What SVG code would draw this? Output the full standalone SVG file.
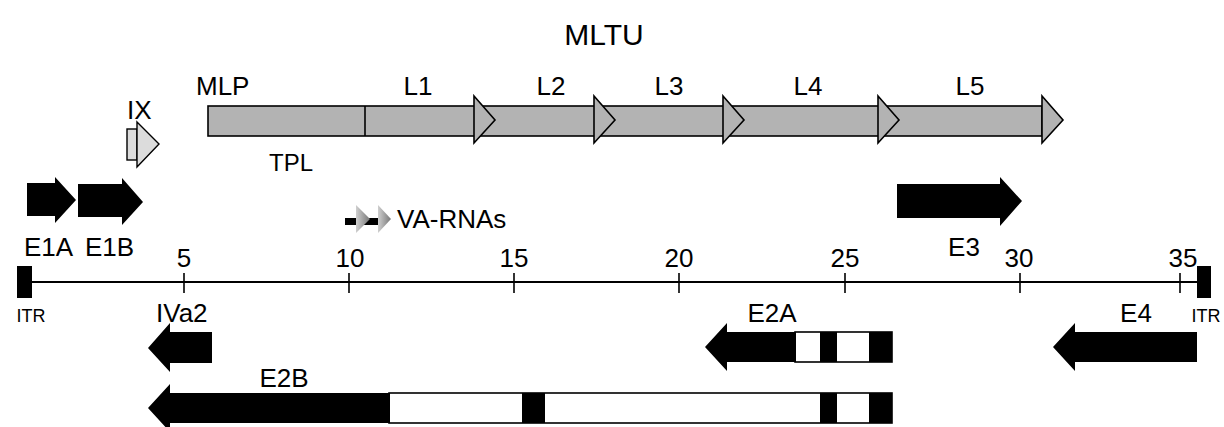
<svg xmlns="http://www.w3.org/2000/svg" width="1224" height="427" viewBox="0 0 1224 427">
  <defs>
    <style>
      text { font-family: "Liberation Sans", Arial, sans-serif; fill: #000; }
      .lbl { font-size: 26px; }
      .title { font-size: 30px; }
      .small { font-size: 18px; }
      .mid { text-anchor: middle; }
      .gene { fill: #000; stroke: none; }
      .late { fill: #b3b3b3; stroke: #000; stroke-width: 1.6; stroke-linejoin: miter; }
      .intron { fill: #fff; stroke: #000; stroke-width: 1.6; }
      .axis { stroke: #000; stroke-width: 2; fill: none; }
      .tick { stroke: #000; stroke-width: 1.6; }
    </style>
    <linearGradient id="vaGrad" x1="0" y1="0" x2="1" y2="0">
      <stop offset="0" stop-color="#cfcfcf"/>
      <stop offset="1" stop-color="#777"/>
    </linearGradient>
  </defs>

  <!-- title -->
  <text class="title mid" x="604" y="45">MLTU</text>

  <!-- major late transcription unit -->
  <g id="mltu">
    <rect class="late" x="208" y="106" width="834" height="30"/>
    <line x1="365" y1="106" x2="365" y2="136" stroke="#000" stroke-width="1.6"/>
    <polygon class="late" points="474,96 495,120 474,143"/>
    <polygon class="late" points="594,96 615,120 594,143"/>
    <polygon class="late" points="723,96 744,120 723,143"/>
    <polygon class="late" points="878,96 899,120 878,143"/>
    <polygon class="late" points="1042,96 1063,120 1042,143"/>
    <text class="lbl" x="196" y="95">MLP</text>
    <text class="lbl mid" x="418" y="95">L1</text>
    <text class="lbl mid" x="551" y="95">L2</text>
    <text class="lbl mid" x="669" y="95">L3</text>
    <text class="lbl mid" x="808" y="95">L4</text>
    <text class="lbl mid" x="970" y="95">L5</text>
    <text class="mid" x="291" y="171" style="font-size:24px">TPL</text>
  </g>

  <!-- protein IX -->
  <g id="ix">
    <rect x="127" y="129" width="10" height="31" fill="#dcdcdc" stroke="#000" stroke-width="1.4"/>
    <polygon points="137,122 159,144 137,167" fill="#dcdcdc" stroke="#000" stroke-width="1.4"/>
    <text class="lbl" x="127" y="119">IX</text>
  </g>

  <!-- early region 1 -->
  <g id="e1a">
    <polygon class="gene" points="27,183 55,183 55,177 76,200 55,223 55,216 27,216"/>
    <text class="lbl" x="24" y="256">E1A</text>
  </g>
  <g id="e1b">
    <polygon class="gene" points="78,184 122,184 122,178 143,202 122,225 122,217 78,217"/>
    <text class="lbl" x="85" y="256">E1B</text>
  </g>

  <!-- virus-associated RNAs -->
  <g id="va-rnas">
    <rect x="345" y="218" width="35" height="7" fill="#000"/>
    <polygon points="356,205 370,219 356,233" fill="url(#vaGrad)"/>
    <polygon points="378,205 391,219 378,233" fill="url(#vaGrad)"/>
    <text class="lbl" x="397" y="228">VA-RNAs</text>
  </g>

  <!-- early region 3 -->
  <g id="e3">
    <polygon class="gene" points="897,184 1000,184 1000,177 1022,201 1000,226 1000,218 897,218"/>
    <text class="lbl mid" x="964" y="256">E3</text>
  </g>

  <!-- genome scale (kb) -->
  <g id="genome">
    <line class="axis" x1="32" y1="282" x2="1197" y2="282"/>
    <rect x="17" y="266" width="15" height="32" fill="#000"/>
    <rect x="1197" y="266" width="14" height="32" fill="#000"/>
    <line class="tick" x1="184" y1="273" x2="184" y2="293"/>
    <line class="tick" x1="349" y1="273" x2="349" y2="293"/>
    <line class="tick" x1="514" y1="273" x2="514" y2="293"/>
    <line class="tick" x1="679" y1="273" x2="679" y2="293"/>
    <line class="tick" x1="845" y1="273" x2="845" y2="293"/>
    <line class="tick" x1="1020" y1="273" x2="1020" y2="293"/>
    <line class="tick" x1="1180" y1="273" x2="1180" y2="293"/>
    <text class="lbl mid" x="184" y="267">5</text>
    <text class="lbl mid" x="350" y="267">10</text>
    <text class="lbl mid" x="514" y="267">15</text>
    <text class="lbl mid" x="679" y="267">20</text>
    <text class="lbl mid" x="845" y="267">25</text>
    <text class="lbl mid" x="1019" y="267">30</text>
    <text class="lbl mid" x="1183" y="267">35</text>
    <text class="small mid" x="31" y="322">ITR</text>
    <text class="small mid" x="1206" y="322">ITR</text>
  </g>

  <!-- IVa2 -->
  <g id="iva2">
    <polygon class="gene" points="148,348 170,323 170,332 212,332 212,363 170,363 170,372"/>
    <text class="lbl" x="156" y="322">IVa2</text>
  </g>

  <!-- early region 2A -->
  <g id="e2a">
    <rect class="intron" x="795" y="332" width="97" height="30"/>
    <polygon class="gene" points="705,347 727,323 727,332 796,332 796,362 727,362 727,371"/>
    <rect class="gene" x="820" y="332" width="17" height="30"/>
    <rect class="gene" x="869" y="332" width="23" height="30"/>
    <text class="lbl mid" x="772" y="322">E2A</text>
  </g>

  <!-- early region 4 -->
  <g id="e4">
    <polygon class="gene" points="1053,347 1075,323 1075,332 1197,332 1197,362 1075,362 1075,371"/>
    <text class="lbl mid" x="1136" y="322">E4</text>
  </g>

  <!-- early region 2B -->
  <g id="e2b">
    <rect class="intron" x="389" y="393" width="503" height="30"/>
    <polygon class="gene" points="148,408 170,384 170,393 390,393 390,423 170,423 170,432"/>
    <rect class="gene" x="522" y="393" width="23" height="30"/>
    <rect class="gene" x="820" y="393" width="17" height="30"/>
    <rect class="gene" x="869" y="393" width="23" height="30"/>
    <text class="lbl mid" x="284" y="387">E2B</text>
  </g>
</svg>
